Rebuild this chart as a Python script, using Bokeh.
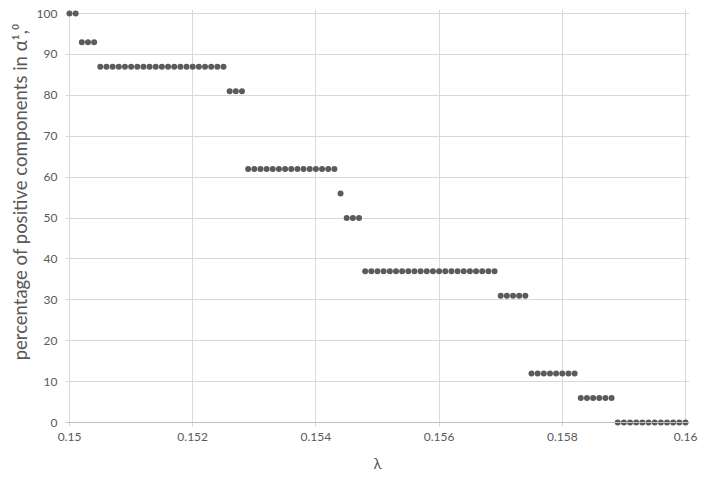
from bokeh.plotting import figure
from bokeh.models import Range1d, FixedTicker, Span, ColumnDataSource, Title
from bokeh.embed import file_html
from bokeh.resources import INLINE

# lambda values (x)
lam = [
    0.1500, 0.1501,
    0.1502, 0.1503, 0.1504,
    0.1505, 0.1506, 0.1507, 0.1508, 0.1509, 0.1510, 0.1511, 0.1512, 0.1513, 0.1514,
    0.1515, 0.1516, 0.1517, 0.1518, 0.1519, 0.1520, 0.1521, 0.1522, 0.1523, 0.1524, 0.1525,
    0.1526, 0.1527, 0.1528,
    0.1529, 0.1530, 0.1531, 0.1532, 0.1533, 0.1534, 0.1535, 0.1536, 0.1537, 0.1538,
    0.1539, 0.1540, 0.1541, 0.1542, 0.1543,
    0.1544,
    0.1545, 0.1546, 0.1547,
    0.1548, 0.1549, 0.1550, 0.1551, 0.1552, 0.1553, 0.1554, 0.1555, 0.1556, 0.1557, 0.1558,
    0.1559, 0.1560, 0.1561, 0.1562, 0.1563, 0.1564, 0.1565, 0.1566, 0.1567, 0.1568, 0.1569,
    0.1570, 0.1571, 0.1572, 0.1573, 0.1574,
    0.1575, 0.1576, 0.1577, 0.1578, 0.1579, 0.1580, 0.1581, 0.1582,
    0.1583, 0.1584, 0.1585, 0.1586, 0.1587, 0.1588,
    0.1589, 0.1590, 0.1591, 0.1592, 0.1593, 0.1594, 0.1595, 0.1596, 0.1597, 0.1598, 0.1599, 0.1600,
]

# percentage of positive components (y)
pct = [
    100, 100,
    93, 93, 93,
    87, 87, 87, 87, 87, 87, 87, 87, 87, 87,
    87, 87, 87, 87, 87, 87, 87, 87, 87, 87, 87,
    81, 81, 81,
    62, 62, 62, 62, 62, 62, 62, 62, 62, 62,
    62, 62, 62, 62, 62,
    56,
    50, 50, 50,
    37, 37, 37, 37, 37, 37, 37, 37, 37, 37, 37,
    37, 37, 37, 37, 37, 37, 37, 37, 37, 37, 37,
    31, 31, 31, 31, 31,
    12, 12, 12, 12, 12, 12, 12, 12,
    6, 6, 6, 6, 6, 6,
    0, 0, 0, 0, 0, 0, 0, 0, 0, 0, 0, 0,
]

x_tick_labels = ["0.15", "0.152", "0.154", "0.156", "0.158", "0.16"]
y_tick_values = [0, 10, 20, 30, 40, 50, 60, 70, 80, 90, 100]

FONT = "Lato"
TXT = "#595959"

xpad = 0.01 / 616 * 4
ypad = 100 / 409 * 4

p = figure(
    width=699, height=475,
    output_backend="svg", toolbar_location=None,
    x_range=Range1d(0.15 - xpad, 0.16 + xpad),
    y_range=Range1d(0 - ypad, 100 + ypad),
    min_border_left=65, min_border_right=10,
    min_border_top=9, min_border_bottom=49,
)
p.outline_line_color = None

xt = [float(s) for s in x_tick_labels]
p.xaxis.ticker = FixedTicker(ticks=xt)
p.xaxis.major_label_overrides = {float(s): s for s in x_tick_labels}
p.yaxis.ticker = FixedTicker(ticks=y_tick_values)

for ax in (p.xaxis, p.yaxis):
    ax.axis_line_color = None
    ax.major_tick_line_color = None
    ax.minor_tick_line_color = None
    ax.major_tick_out = 0
    ax.major_tick_in = 0
    ax.minor_tick_out = 0
    ax.minor_tick_in = 0
    ax.major_label_text_color = TXT
    ax.major_label_text_font = FONT
    ax.major_label_text_font_size = "12px"
    ax.axis_label_text_color = TXT
    ax.axis_label_text_font = FONT
    ax.axis_label_text_font_style = "normal"
    ax.axis_label_text_font_size = "15px"

p.xaxis.major_label_standoff = 6
p.yaxis.major_label_standoff = 8
p.xaxis.axis_label = "λ"
p.xaxis.axis_label_standoff = 10

ylab = Title(
    text="percentage of positive components in α¹,⁰",
    align="right", offset=14, standoff=5,
    text_font=FONT, text_font_size="18.5px", text_font_style="normal",
    text_color=TXT,
)
p.add_layout(ylab, "left")

p.xgrid.grid_line_color = "#d9d9d9"
p.ygrid.grid_line_color = "#d9d9d9"
p.xgrid.grid_line_width = 1
p.ygrid.grid_line_width = 1

p.add_layout(Span(location=0, dimension="width", line_color="#bfbfbf", line_width=1))

src = ColumnDataSource(dict(x=lam, y=pct))
p.scatter("x", "y", source=src, size=6, fill_color="#5b5b5b", line_color=None)

open("out.html", "w").write(file_html(p, INLINE))
